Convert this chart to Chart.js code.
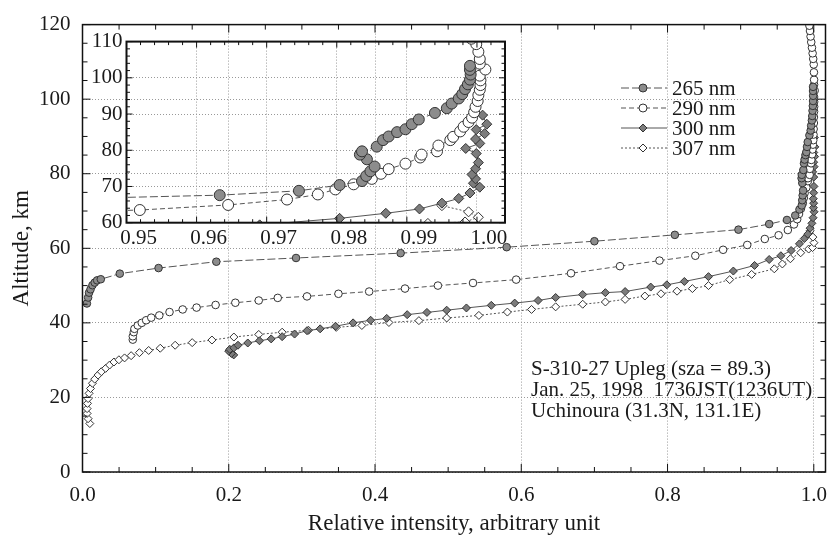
<!DOCTYPE html>
<html>
<head>
<meta charset="utf-8">
<script src="https://cdn.jsdelivr.net/npm/chart.js@4.4.1/dist/chart.umd.min.js"></script>
<style>
html, body { margin:0; padding:0; background:#fff; }
#wrap { position:relative; width:838px; height:535px; }
#main { position:absolute; left:0; top:0; }
#inset { position:absolute; left:80px; top:25px; }
</style>
</head>
<body>
<div id="wrap">
  <canvas id="main" width="838" height="535"></canvas>
  <canvas id="inset" width="440" height="235"></canvas>
</div>
<script>
'use strict';
// relative intensity (x) and altitude in km (y)
const labels = ['265 nm', '290 nm', '300 nm', '307 nm'];

const int265 = [0.006,0.0077,0.009,0.011,0.0136,0.0167,0.020,0.025,0.051,0.104,0.183,0.292,0.435,0.580,0.700,0.810,0.897,0.939,0.9633,0.9746,0.9804,0.9836,0.9842,0.9848,0.9854,0.9843,0.9833,0.9836,0.9857,0.9866,0.9874,0.9886,0.9898,0.9907,0.9917,0.9940,0.9957,0.9964,0.9974,0.9979,0.9983,0.9987,0.9990,0.9991,0.9990,0.9990];
const alt265 = [45.2,46.8,48.1,49.0,50.1,50.8,51.4,51.7,53.2,54.7,56.4,57.4,58.7,60.3,61.9,63.6,65.0,66.5,67.6,68.8,70.4,71.5,72.9,74.2,75.5,77.5,78.8,79.7,81.0,82.8,83.8,85.0,85.8,87.2,88.5,90.3,91.6,92.9,94.3,95.5,96.9,98.2,99.5,100.9,102.2,103.3];

const int290 = [0.0688,0.0688,0.0701,0.071,0.0756,0.081,0.087,0.094,0.105,0.119,0.137,0.156,0.182,0.209,0.241,0.267,0.307,0.350,0.392,0.441,0.486,0.534,0.593,0.668,0.735,0.789,0.838,0.876,0.909,0.933,0.9519,0.9645,0.9729,0.9773,0.9798,0.9824,0.9850,0.9863,0.9874,0.9898,0.9919,0.9921,0.9943,0.9945,0.9962,0.9966,0.9976,0.9981,0.9988,0.9993,0.9996,0.9998,1.0001,1.0002,1.0004,1.0005,1.0005,1.0004,1.0012,1.0004,1.0004,1.0002,0.9999,0.9992,0.9984,0.9975,0.9965,0.9956,0.9948,0.9940];
const alt290 = [35.5,36.4,37.5,38.4,39.3,40.0,40.7,41.4,42.0,42.9,43.6,44.1,44.8,45.4,46.0,46.7,47.1,47.8,48.4,49.2,50.0,50.7,51.6,53.3,55.2,56.7,58.0,59.6,60.9,62.5,63.5,64.9,66.4,67.8,69.2,70.6,72.1,73.5,74.8,76.3,78.0,78.8,79.7,81.3,82.8,83.7,85.2,86.5,87.8,89.0,90.5,92.0,93.6,95.2,96.7,98.0,99.3,100.6,102.3,103.9,105.2,107.2,109.3,110.8,112.3,113.8,115.3,116.8,118.3,119.7];

const int300 = [0.2068,0.2036,0.200,0.2014,0.207,0.2126,0.226,0.242,0.258,0.273,0.290,0.307,0.325,0.346,0.370,0.394,0.416,0.444,0.471,0.498,0.525,0.559,0.591,0.623,0.647,0.684,0.715,0.742,0.777,0.799,0.823,0.856,0.890,0.919,0.939,0.955,0.969,0.9804,0.9870,0.9918,0.9950,0.9974,0.9990,1.0004,0.9995,0.9998,0.9993,0.9998,1.0002,0.9999,0.9984,1.0004,0.9998,1.0011,0.9999,1.0014,1.0008];
const alt300 = [31.4,31.8,32.4,32.9,33.3,34.0,34.6,35.2,35.7,36.3,37.0,37.9,38.4,39.1,40.0,40.7,41.2,42.2,42.8,43.4,44.0,44.7,45.3,46.0,46.8,47.6,48.1,48.4,49.6,50.2,51.1,52.4,53.9,55.4,57.0,58.0,59.4,61.2,62.6,63.8,65.4,66.7,68.2,69.8,70.9,72.1,73.3,74.9,76.6,79.1,80.5,81.9,83.1,84.6,85.7,87.2,89.7];

const int307 = [0.010,0.0077,0.0063,0.0063,0.0068,0.0077,0.009,0.0109,0.0136,0.0167,0.0213,0.0258,0.0317,0.0371,0.043,0.0498,0.0575,0.0665,0.0778,0.0905,0.1063,0.1267,0.150,0.177,0.207,0.241,0.273,0.309,0.347,0.382,0.419,0.460,0.498,0.542,0.581,0.614,0.647,0.684,0.715,0.742,0.769,0.791,0.813,0.834,0.856,0.885,0.915,0.946,0.957,0.968,0.982,0.993,0.9983,1.0002,0.9988,0.9950];
const alt307 = [13.0,14.3,15.7,17.0,18.4,19.7,21.1,22.4,23.8,24.9,26.0,26.9,27.8,28.7,29.5,30.1,30.6,31.2,32.0,32.6,33.2,34.0,34.7,35.4,36.2,36.9,37.5,38.0,38.8,39.3,40.1,40.6,41.3,42.0,42.9,43.6,44.3,45.0,45.6,46.3,47.2,47.8,48.5,49.2,50.0,51.6,53.0,54.5,55.8,57.2,58.8,59.8,60.2,61.5,63.0,64.7];

const notes = ['S-310-27 Upleg (sza = 89.3)', 'Jan. 25, 1998  1736JST(1236UT)', 'Uchinoura (31.3N, 131.1E)'];

const SERIF = "'Liberation Serif', 'Times New Roman', serif";
Chart.defaults.font.family = SERIF;
Chart.defaults.color = '#1a1a1a';

const looks = [
  { shape:'circle',  fill:'#8c8c8c', dash:[8,3] },
  { shape:'circle',  fill:'#ffffff', dash:[5,3] },
  { shape:'rectRot', fill:'#7c7c7c', dash:[] },
  { shape:'rectRot', fill:'#ffffff', dash:[2,2] },
];

function pairs(xs, ys) { return xs.map((x, i) => ({ x: x, y: ys[i] })); }

function makeSets(big) {
  const src = [[int265, alt265], [int290, alt290], [int300, alt300], [int307, alt307]];
  return src.map((s, i) => {
    const lk = looks[i];
    const r = lk.shape === 'circle' ? (big ? 5.5 : 3.8) : (big ? 5 : 4);
    return {
      label: labels[i], data: pairs(s[0], s[1]), showLine: true, tension: 0,
      borderColor: '#555', borderWidth: 1, borderDash: lk.dash,
      pointStyle: lk.shape, pointRadius: r, pointHoverRadius: r,
      pointBackgroundColor: lk.fill, pointBorderColor: '#333', pointBorderWidth: 1
    };
  });
}

// frame box + inward major/minor ticks on all four sides
function eachTick(scale, step, major, fn) {
  const n0 = Math.ceil(scale.min / step - 1e-9), n1 = Math.floor(scale.max / step + 1e-9);
  for (let n = n0; n <= n1; n++) {
    const v = n * step, q = v / major;
    fn(scale.getPixelForValue(v), Math.abs(q - Math.round(q)) < 1e-6);
  }
}
const frame = {
  id: 'frame',
  afterDatasetsDraw(chart, args, o) {
    const { ctx, chartArea: a, scales: { x, y } } = chart;
    ctx.save();
    ctx.strokeStyle = '#111';
    ctx.lineWidth = 1;
    ctx.beginPath();
    eachTick(x, o.xMinor, o.xMajor, (p, big) => {
      const L = big ? o.big : o.small;
      ctx.moveTo(p, a.bottom); ctx.lineTo(p, a.bottom - L);
      ctx.moveTo(p, a.top); ctx.lineTo(p, a.top + L);
    });
    eachTick(y, o.yMinor, o.yMajor, (p, big) => {
      const L = big ? o.big : o.small;
      ctx.moveTo(a.left, p); ctx.lineTo(a.left + L, p);
      ctx.moveTo(a.right, p); ctx.lineTo(a.right - L, p);
    });
    ctx.stroke();
    ctx.lineWidth = o.lw;
    ctx.strokeRect(a.left, a.top, a.right - a.left, a.bottom - a.top);
    ctx.restore();
  }
};

function marker(ctx, shape, cx, cy, r, fill) {
  ctx.beginPath();
  if (shape === 'circle') ctx.arc(cx, cy, r, 0, Math.PI * 2);
  else { ctx.moveTo(cx, cy - r); ctx.lineTo(cx + r, cy); ctx.lineTo(cx, cy + r); ctx.lineTo(cx - r, cy); ctx.closePath(); }
  ctx.fillStyle = fill; ctx.fill();
  ctx.strokeStyle = '#333'; ctx.lineWidth = 1; ctx.stroke();
}

// legend and the flight note inside the main plot
const extras = {
  id: 'extras',
  afterDraw(chart) {
    const ctx = chart.ctx;
    ctx.save();
    ctx.font = '21px ' + SERIF;
    ctx.textBaseline = 'middle';
    ctx.fillStyle = '#1a1a1a';
    chart.data.datasets.forEach((d, i) => {
      const yy = 88 + i * 20;
      ctx.strokeStyle = '#555'; ctx.lineWidth = 1;
      ctx.setLineDash(looks[i].dash);
      ctx.beginPath(); ctx.moveTo(621, yy); ctx.lineTo(667, yy); ctx.stroke();
      ctx.setLineDash([]);
      marker(ctx, looks[i].shape, 643, yy, 4, looks[i].fill);
      ctx.fillStyle = '#1a1a1a';
      ctx.fillText(d.label, 672, yy + 1);
    });
    notes.forEach((t, i) => ctx.fillText(t, 531, 369 + i * 21.2));
    ctx.restore();
  }
};

const gridOpts = { color: '#999', lineWidth: 1, drawTicks: false };
const borderOpts = { display: false, dash: [1, 2] };

new Chart(document.getElementById('main'), {
  type: 'scatter',
  data: { datasets: makeSets(false) },
  plugins: [frame, extras],
  options: {
    responsive: false, animation: false, events: [],
    layout: { padding: { left: 0, right: 3, top: 22, bottom: 0 } },
    plugins: {
      legend: { display: false }, tooltip: { enabled: false },
      frame: { lw: 1.5, xMinor: 0.05, xMajor: 0.2, yMinor: 5, yMajor: 20, big: 8, small: 5 }
    },
    scales: {
      x: {
        type: 'linear', min: 0, max: 1.016,
        afterFit: s => { s.height = 63; },
        grid: gridOpts, border: borderOpts,
        ticks: { stepSize: 0.2, includeBounds: false, padding: 11, font: { size: 21 },
          callback: v => v.toFixed(1) },
        title: { display: true, text: 'Relative intensity, arbitrary unit',
          font: { size: 23, lineHeight: 1 }, padding: { top: 0, bottom: 0 } }
      },
      y: {
        type: 'linear', min: 0, max: 120,
        afterFit: s => { s.width = 82.5; },
        grid: gridOpts, border: borderOpts,
        ticks: { stepSize: 20, padding: 12, font: { size: 21 } },
        title: { display: true, text: 'Altitude, km',
          font: { size: 23, lineHeight: 1 }, padding: { top: 10, bottom: 0 } }
      }
    }
  }
});

new Chart(document.getElementById('inset'), {
  type: 'scatter',
  data: { datasets: makeSets(true) },
  plugins: [frame],
  options: {
    responsive: false, animation: false, events: [],
    layout: { padding: { left: 0, right: 15, top: 9.3, bottom: 0 } },
    plugins: {
      legend: { display: false }, tooltip: { enabled: false },
      frame: { lw: 2, xMinor: 0.002, xMajor: 0.01, yMinor: 2, yMajor: 10, big: 6, small: 3.5 }
    },
    scales: {
      x: {
        type: 'linear', min: 0.95, max: 1.004,
        afterFit: s => { s.height = 37.3; },
        grid: gridOpts, border: borderOpts,
        ticks: { stepSize: 0.01, includeBounds: false, padding: 3, labelOffset: 12,
          font: { size: 21 }, callback: v => v.toFixed(2) }
      },
      y: {
        type: 'linear', min: 60, max: 110,
        afterFit: s => { s.width = 46.5; },
        grid: gridOpts, border: borderOpts,
        ticks: { stepSize: 10, padding: 4, font: { size: 21 } }
      }
    }
  }
});
</script>
</body>
</html>
